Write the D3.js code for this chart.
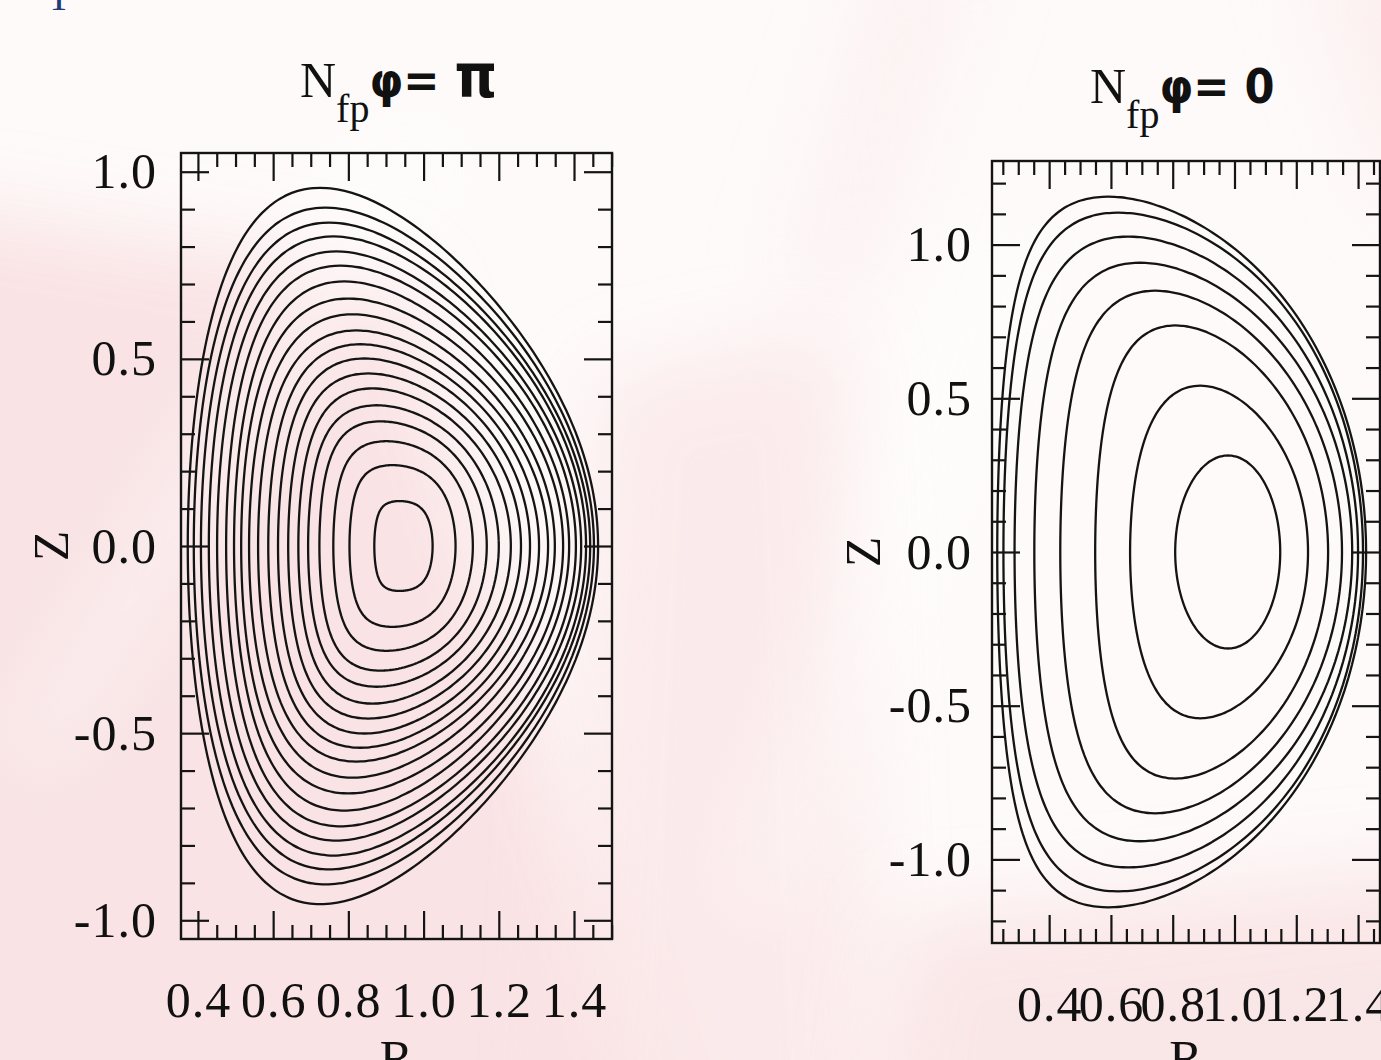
<!DOCTYPE html>
<html>
<head>
<meta charset="utf-8">
<script src="https://cdn.jsdelivr.net/npm/d3@7"></script>
<style>
  html, body { margin: 0; padding: 0; overflow: hidden; background: #fff; }
</style>
</head>
<body>
<div id="chart"></div>
<script>

/* Data */
/* ---- */

// left panel (N_fp phi = pi), flux surfaces from axis outwards
var leftRIn   = [0.869, 0.803, 0.760, 0.723, 0.693, 0.667, 0.640, 0.613, 0.587, 0.560, 0.536, 0.515, 0.496, 0.475, 0.451, 0.429, 0.408, 0.389, 0.373];
var leftROut  = [1.024, 1.085, 1.131, 1.168, 1.200, 1.232, 1.259, 1.283, 1.307, 1.331, 1.349, 1.371, 1.387, 1.405, 1.419, 1.432, 1.443, 1.453, 1.464];
var leftZTop  = [0.120, 0.216, 0.280, 0.333, 0.376, 0.421, 0.461, 0.501, 0.539, 0.576, 0.619, 0.661, 0.707, 0.749, 0.787, 0.827, 0.864, 0.904, 0.957];
var leftRTop  = [0.936, 0.917, 0.901, 0.885, 0.875, 0.864, 0.853, 0.843, 0.832, 0.821, 0.811, 0.800, 0.789, 0.779, 0.768, 0.760, 0.749, 0.739, 0.725];
var leftSquare = [0.18, 0.14, 0.11, 0.09, 0.07, 0.05, 0.04, 0.03, 0.02, 0.01, 0.0, 0.0, -0.01, -0.01, -0.02, -0.02, -0.03, -0.03, -0.04];

// right panel (N_fp phi = 0)
var rightRIn  = [0.808, 0.662, 0.549, 0.436, 0.352, 0.288, 0.252, 0.232];
var rightROut = [1.148, 1.238, 1.303, 1.348, 1.381, 1.400, 1.416, 1.426];
var rightZTop = [0.314, 0.541, 0.737, 0.850, 0.941, 1.026, 1.104, 1.156];
var rightRTop = [0.979, 0.889, 0.808, 0.743, 0.694, 0.656, 0.623, 0.591];
var rightSquare = [0.0, 0.02, 0.04, 0.05, 0.06, 0.07, 0.08, 0.08];

// axes
var leftRDomain  = [0.355, 1.501];
var leftZDomain  = [-1.05, 1.05];
var rightRDomain = [0.215, 1.471];
var rightZDomain = [-1.272, 1.272];

var rMajor = [0.4, 0.6, 0.8, 1.0, 1.2, 1.4];
var leftZMajor  = [-1.0, -0.5, 0.0, 0.5, 1.0];
var rightZMajor = [-1.0, -0.5, 0.0, 0.5, 1.0];

var leftTitleEnd  = ['φ', '= ', 'π'];
var rightTitleEnd = ['φ', '= ', '0'];


/* Helpers */
/* ------- */

function minorTicks(domain, step) {
  var out = [];
  var start = Math.ceil(domain[0] / step - 1e-6);
  var stop = Math.floor(domain[1] / step + 1e-6);
  for (var k = start; k <= stop; k++) out.push(+(k * step).toFixed(3));
  return out;
}

// IDL prints a plain hyphen for negatives
var fmt = function(v) { return d3.format('.1f')(v).replace('\u2212', '-'); };

// Miller-type closed surface through the read extents
function surface(rIn, rOut, zTop, rTop, sq) {
  var r0 = (rIn + rOut) / 2,
      a = (rOut - rIn) / 2,
      kappa = zTop / a,
      tri = Math.asin(Math.max(-0.95, Math.min(0.95, (r0 - rTop) / a)));
  return d3.range(0, 360, 2).map(function(deg) {
    var t = deg * Math.PI / 180;
    return [r0 + a * Math.cos(t + tri * Math.sin(t)), kappa * a * Math.sin(t + sq * Math.sin(2 * t))];
  });
}


/* Setup */
/* ----- */

var W = 1381, H = 1060;
var font = '"Liberation Serif", "Times New Roman", serif';
var boldFont = '"DejaVu Sans Condensed", "DejaVu Sans", sans-serif';

var svg = d3.select('#chart').append('svg')
    .attr('width', W)
    .attr('height', H)
    .attr('viewBox', '0 0 ' + W + ' ' + H);

// slide background
var defs = svg.append('defs');
defs.append('filter').attr('id', 'blur').attr('x', '-50%').attr('y', '-50%').attr('width', '200%').attr('height', '200%')
  .append('feGaussianBlur').attr('stdDeviation', 40);

var bg = svg.append('g').attr('id', 'bg-g');
bg.append('rect').attr('width', W).attr('height', H).attr('fill', '#fefafa');
var blobs = [
  { pts: [[-100, 200], [400, 280], [680, 1160], [-100, 1160]], fill: '#f9e1e2', op: 0.9 },
  { pts: [[600, 380], [840, 330], [880, 1160], [560, 1160]], fill: '#fae4e5', op: 0.7 },
  { pts: [[880, -50], [980, -50], [860, 300], [780, 300]], fill: '#fbe9ea', op: 0.5 },
  { pts: [[900, 920], [1480, 860], [1480, 1160], [860, 1160]], fill: '#f9e2e3', op: 0.8 },
  { pts: [[1300, -50], [1480, -50], [1480, 240], [1390, 200]], fill: '#fbe8e9', op: 0.6 }
];
bg.selectAll('polygon').data(blobs).enter().append('polygon')
  .attr('points', function(d) { return d.pts.map(function(p) { return p.join(','); }).join(' '); })
  .attr('fill', function(d) { return d.fill; })
  .attr('opacity', function(d) { return d.op; })
  .attr('filter', 'url(#blur)');
// white streaks
var streaks = [
  { pts: [[380, 140], [460, 140], [60, 760], [0, 760]], op: 0.5 },
  { pts: [[960, 250], [1040, 250], [800, 900], [730, 900]], op: 0.45 }
];
bg.selectAll('polygon.streak').data(streaks).enter().append('polygon')
  .attr('class', 'streak')
  .attr('points', function(d) { return d.pts.map(function(p) { return p.join(','); }).join(' '); })
  .attr('fill', '#ffffff')
  .attr('opacity', function(d) { return d.op; })
  .attr('filter', 'url(#blur)');

// clipped slide title fragment
svg.append('text')
  .attr('x', 59).attr('y', 10)
  .attr('text-anchor', 'middle')
  .style('font-family', font).style('font-size', '40px')
  .attr('fill', '#1f3b7c')
  .text('T');


/* Panels */
/* ------ */

var panels = [
  { box: { left: 181, top: 153, right: 612, bottom: 939 },
    rDomain: leftRDomain, zDomain: leftZDomain, zMajor: leftZMajor,
    rIn: leftRIn, rOut: leftROut, zTop: leftZTop, rTop: leftRTop, sq: leftSquare,
    titleEnd: leftTitleEnd, titleX: 300, titleY: 97, zLabelX: 68, yPad: 24 },
  { box: { left: 992, top: 161, right: 1380, bottom: 943 },
    rDomain: rightRDomain, zDomain: rightZDomain, zMajor: rightZMajor,
    rIn: rightRIn, rOut: rightROut, zTop: rightZTop, rTop: rightRTop, sq: rightSquare,
    titleEnd: rightTitleEnd, titleX: 1090, titleY: 103, zLabelX: 880, yPad: 20 }
];

panels.forEach(function(p) {

  var b = p.box,
      w = b.right - b.left,
      h = b.bottom - b.top;

  var x = d3.scaleLinear().domain(p.rDomain).range([0, w]);
  var y = d3.scaleLinear().domain(p.zDomain).range([h, 0]);

  var g = svg.append('g').attr('transform', 'translate(' + b.left + ',' + b.top + ')');

  // flux surfaces
  var line = d3.line()
      .x(function(d) { return x(d[0]); })
      .y(function(d) { return y(d[1]); })
      .curve(d3.curveCardinalClosed.tension(0.5));

  var surfaces = p.rIn.map(function(v, i) {
    return surface(p.rIn[i], p.rOut[i], p.zTop[i], p.rTop[i], p.sq[i]);
  });

  g.append('g').attr('class', 'surfaces')
    .selectAll('path')
    .data(surfaces)
    .enter().append('path')
      .attr('d', line)
      .attr('fill', 'none')
      .attr('stroke', '#141414')
      .attr('stroke-width', 2.3);

  // ticks (IDL style, inward on all four sides)
  var rMinor = minorTicks(p.rDomain, 0.05).filter(function(v) { return rMajor.indexOf(v) < 0; });
  var zMinor = minorTicks(p.zDomain, 0.1).filter(function(v) { return p.zMajor.indexOf(v) < 0; });

  g.append('g').attr('transform', 'translate(0,' + h + ')')
    .call(d3.axisBottom(x).tickValues(rMajor).tickSizeInner(-28).tickSizeOuter(0).tickPadding(42).tickFormat(fmt));
  g.append('g').attr('transform', 'translate(0,' + h + ')')
    .call(d3.axisBottom(x).tickValues(rMinor).tickSizeInner(-14).tickSizeOuter(0).tickFormat(''));
  g.append('g')
    .call(d3.axisTop(x).tickValues(rMajor).tickSizeInner(-28).tickSizeOuter(0).tickFormat(''));
  g.append('g')
    .call(d3.axisTop(x).tickValues(rMinor).tickSizeInner(-14).tickSizeOuter(0).tickFormat(''));

  g.append('g')
    .call(d3.axisLeft(y).tickValues(p.zMajor).tickSizeInner(-28).tickSizeOuter(0).tickPadding(p.yPad).tickFormat(fmt));
  g.append('g')
    .call(d3.axisLeft(y).tickValues(zMinor).tickSizeInner(-14).tickSizeOuter(0).tickFormat(''));
  g.append('g').attr('transform', 'translate(' + w + ',0)')
    .call(d3.axisRight(y).tickValues(p.zMajor).tickSizeInner(-28).tickSizeOuter(0).tickFormat(''));
  g.append('g').attr('transform', 'translate(' + w + ',0)')
    .call(d3.axisRight(y).tickValues(zMinor).tickSizeInner(-14).tickSizeOuter(0).tickFormat(''));

  g.selectAll('.domain').remove();
  g.selectAll('.tick line').attr('stroke', '#141414').attr('stroke-width', 2.2);
  g.selectAll('.tick text')
    .attr('fill', '#111')
    .style('font-family', font)
    .style('font-size', '50px')
    .style('letter-spacing', '1px');

  // frame
  g.append('rect')
    .attr('width', w).attr('height', h)
    .attr('fill', 'none')
    .attr('stroke', '#141414')
    .attr('stroke-width', 2.4);

  // axis titles
  svg.append('text')
    .attr('x', (b.left + b.right) / 2).attr('y', 1075)
    .attr('text-anchor', 'middle')
    .style('font-family', font).style('font-size', '50px')
    .attr('fill', '#111')
    .text('R');

  svg.append('text')
    .attr('transform', 'translate(' + p.zLabelX + ',' + ((b.top + b.bottom) / 2) + ') rotate(-90)')
    .attr('text-anchor', 'middle')
    .style('font-family', font).style('font-size', '50px')
    .attr('fill', '#111')
    .text('Z');

  // panel title: N_fp in serif, then heavy bold phi
  var t = svg.append('text')
    .attr('x', p.titleX).attr('y', p.titleY)
    .attr('fill', '#111');
  t.append('tspan').style('font-family', font).style('font-size', '50px').text('N');
  t.append('tspan').attr('dy', 25).style('font-family', font).style('font-size', '40px').text('fp');
  t.append('tspan').attr('dy', -25)
    .style('font-family', boldFont).style('font-size', '48px').style('font-weight', 'bold')
    .text(p.titleEnd[0] + p.titleEnd[1]);
  t.append('tspan')
    .style('font-family', boldFont).style('font-weight', 'bold')
    .style('font-size', p.titleEnd[2] === 'π' ? '60px' : '48px')
    .text(p.titleEnd[2]);

});

</script>
</body>
</html>
